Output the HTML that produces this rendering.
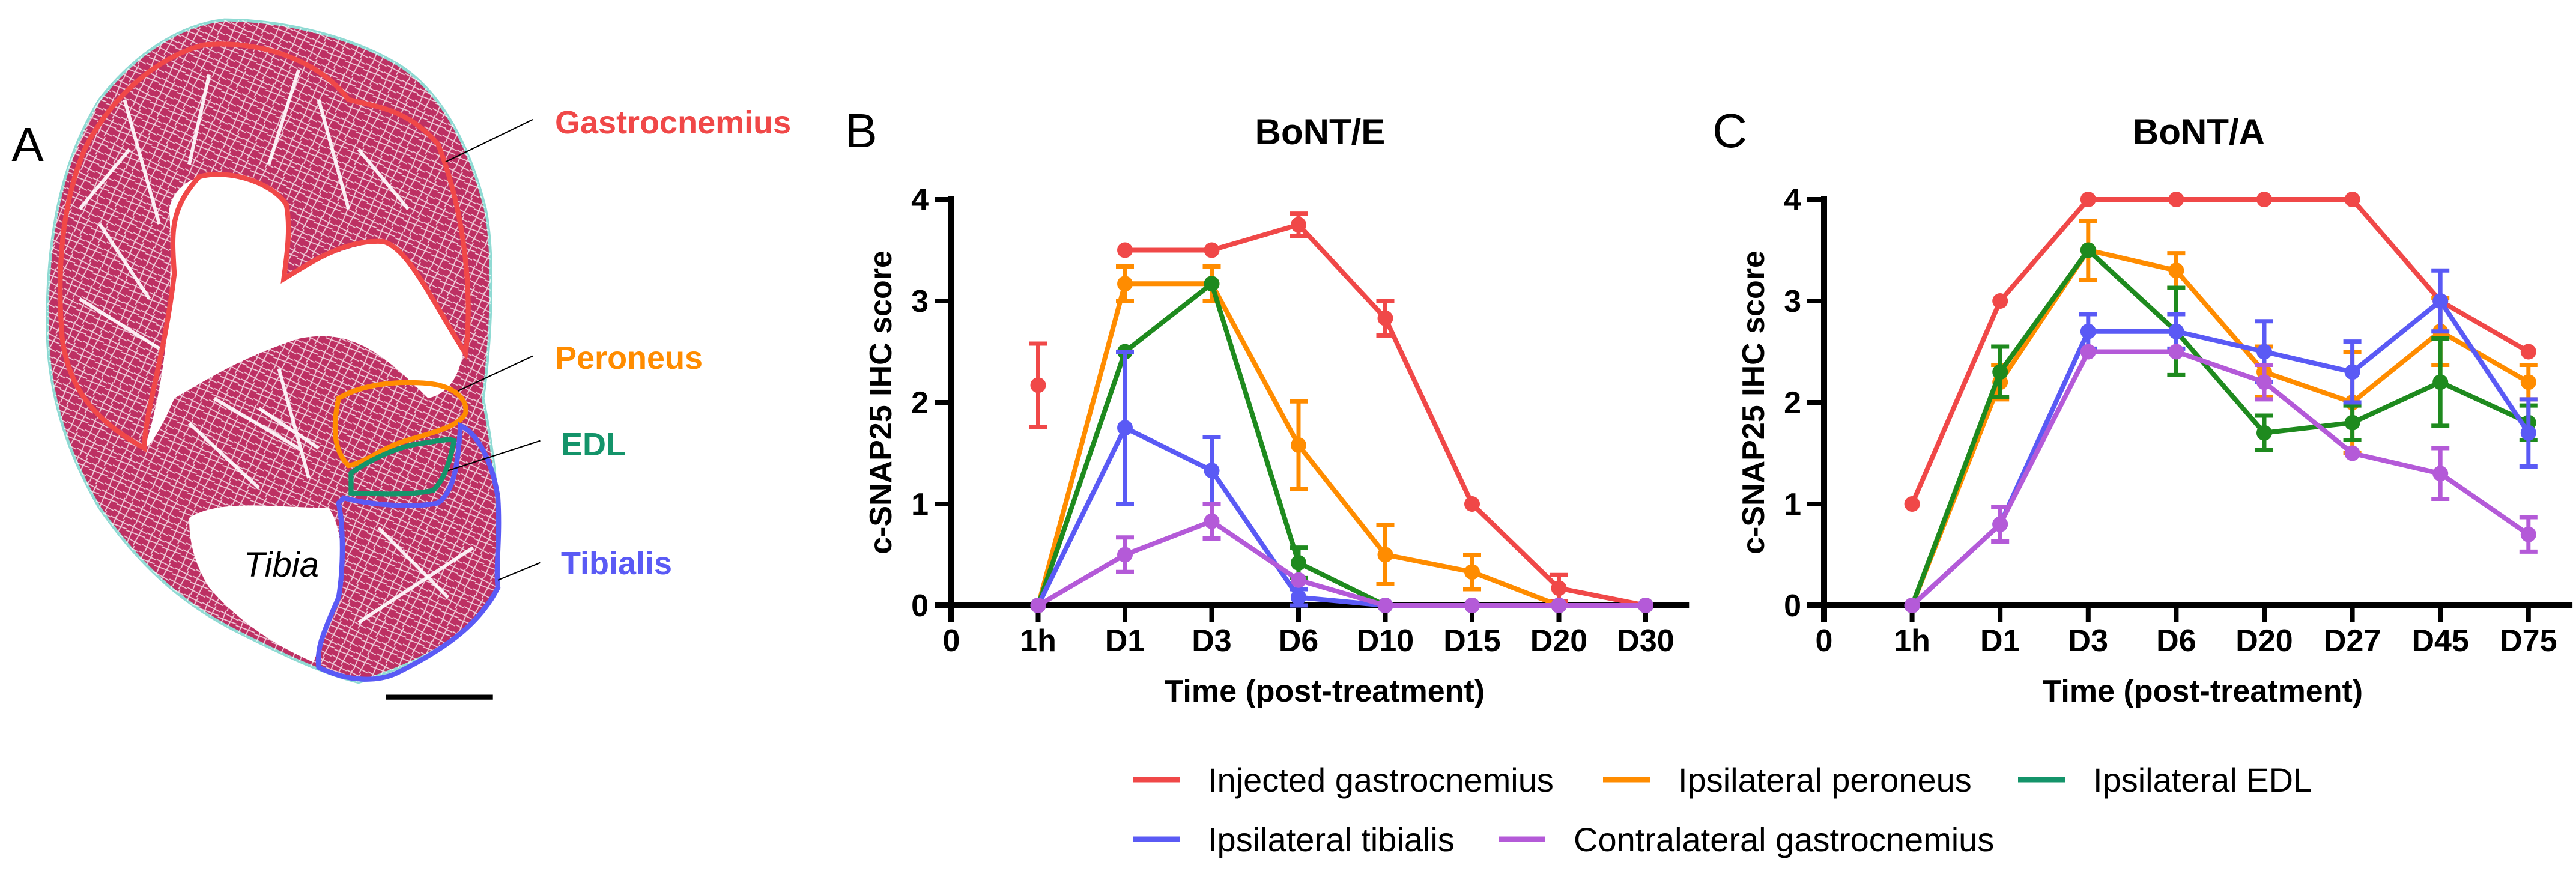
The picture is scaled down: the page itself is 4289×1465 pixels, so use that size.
<!DOCTYPE html>
<html><head><meta charset="utf-8"><style>
html,body{margin:0;padding:0;background:#fff;}
svg{display:block;font-family:"Liberation Sans",sans-serif;}
</style></head><body>
<svg id="fig" width="4289" height="1465" viewBox="0 0 4289 1465" xmlns="http://www.w3.org/2000/svg">
<defs>
 <pattern id="fibers" width="40" height="40" patternUnits="userSpaceOnUse" patternTransform="rotate(25)">
  <path d="M0,5 L40,7 M0,18 L40,15 M0,30 L40,33 M10,0 L12,40 M28,0 L25,40" stroke="#fff" stroke-width="2.2" opacity="0.75"/>
 </pattern>
</defs>
<g id="panelA">
 <text x="46" y="268" font-size="80" text-anchor="middle">A</text>
 <g transform="scale(0.829)">
  <path d="M450,40 C560,40 700,70 800,130 C880,180 940,280 975,420 C995,520 985,700 970,800 C990,900 1005,1000 1000,1180 C960,1260 880,1320 720,1370 C640,1350 560,1310 480,1270 C380,1220 290,1150 200,1020 C130,900 95,780 95,650 C95,480 120,330 200,200 C270,110 360,50 450,40 Z" fill="#bd3063" stroke="#8fdad3" stroke-width="6"/>
  <path d="M450,40 C560,40 700,70 800,130 C880,180 940,280 975,420 C995,520 985,700 970,800 C990,900 1005,1000 1000,1180 C960,1260 880,1320 720,1370 C640,1350 560,1310 480,1270 C380,1220 290,1150 200,1020 C130,900 95,780 95,650 C95,480 120,330 200,200 C270,110 360,50 450,40 Z" fill="url(#fibers)"/>
  <path d="M340,420 C350,360 420,340 480,350 C540,360 575,400 580,450 C578,500 570,540 570,560 C640,520 720,480 790,490 C840,540 880,620 930,710 C920,760 900,790 860,800 C760,700 700,660 600,680 C480,720 420,760 350,800 C330,850 300,900 290,900 C330,780 350,600 340,420 Z" fill="#fff"/>
  <path d="M380,1040 C440,1000 560,1020 660,1020 C690,1060 690,1150 680,1200 C650,1260 640,1300 630,1330 C560,1300 480,1250 420,1180 C390,1130 380,1090 380,1040 Z" fill="#fff"/>
  <path d="M250,200 L320,450 M420,150 L380,330 M600,140 L540,330 M640,200 L700,420 M200,450 L300,600 M160,600 L320,700 M720,300 L820,420 M400,450 L520,520 M480,620 L800,620 M380,850 L520,980 M760,1060 L900,1200 M720,1250 L950,1100 M430,800 L600,900 M260,300 L160,420 M520,820 L640,900 M560,740 L620,960" stroke="#fff" stroke-width="7" fill="none" opacity="0.9"/>
  <path d="M410,90 C330,110 230,180 170,300 C120,420 115,560 125,680 C140,790 200,850 290,900 C290,830 330,720 350,550 C345,470 340,420 400,355 C450,340 540,360 575,410 C585,460 575,520 570,560 C620,530 690,480 770,485 C820,500 860,590 935,710 C950,600 935,430 880,290 C820,220 760,215 700,200 C640,120 520,80 410,90 Z" fill="none" stroke="#f04848" stroke-width="10"/>
  <path d="M680,800 C730,770 800,765 860,770 C910,775 940,800 935,830 C920,860 860,870 800,890 C760,905 730,930 700,935 C675,910 665,870 680,800 Z" fill="none" stroke="#ff8c00" stroke-width="10"/>
  <path d="M705,950 C740,925 800,895 850,890 C880,885 905,880 912,885 C905,920 895,960 870,985 C820,995 760,992 705,990 Z" fill="none" stroke="#14946a" stroke-width="10"/>
  <path d="M690,1000 C750,1015 830,1020 880,1010 C915,985 920,920 925,855 C960,870 990,930 1000,1000 C1005,1080 995,1140 1000,1180 C960,1260 880,1310 800,1350 C760,1370 700,1370 640,1340 C635,1300 650,1270 680,1200 C690,1140 690,1060 680,1010 Z" fill="none" stroke="#5a5af5" stroke-width="10"/>
  <g stroke="#000" stroke-width="2.5">
   <line x1="1070" y1="240" x2="895" y2="325"/>
   <line x1="1070" y1="715" x2="920" y2="785"/>
   <line x1="1085" y1="885" x2="900" y2="945"/>
   <line x1="1085" y1="1130" x2="1000" y2="1165"/>
  </g>
  <text x="565" y="1158" font-size="70" font-style="italic" text-anchor="middle">Tibia</text>
  <line x1="775" y1="1400" x2="990" y2="1400" stroke="#000" stroke-width="10"/>
 </g>
 <g font-weight="bold" font-size="54">
  <text x="924" y="222" fill="#f04848">Gastrocnemius</text>
  <text x="924" y="614" fill="#ff8c00">Peroneus</text>
  <text x="934" y="758" fill="#14946a">EDL</text>
  <text x="934" y="956" fill="#5a5af5">Tibialis</text>
 </g>
</g>
<g id="chartB"></g>
<g id="chartC"></g>
<g id="legend"></g>
</svg>
<script>
const seriesNames = ["Injected gastrocnemius","Ipsilateral peroneus","Ipsilateral EDL","Ipsilateral tibialis","Contralateral gastrocnemius"];
const lineColors = ["#f04848","#ff8c00","#1e8a1e","#5a5af5","#b45ad8"];
const legendColors = ["#f04848","#ff8c00","#14946a","#5a5af5","#b45ad8"];

const catsB = ["1h","D1","D3","D6","D10","D15","D20","D30"];
const redB = [2.17,3.5,3.5,3.75,2.83,1.0,0.17,0];
const redErrB = [0.41,0,0,0.11,0.17,0,0.13,0];
const orangeB = [0,3.17,3.17,1.58,0.5,0.33,0,0];
const orangeErrB = [0,0.17,0.17,0.43,0.29,0.17,0,0];
const greenB = [0,2.5,3.17,0.42,0,0,0,0];
const greenErrB = [0,0,0,0.15,0,0,0,0];
const blueB = [0,1.75,1.33,0.08,0,0,0,0];
const blueErrB = [0,0.75,0.33,0.08,0,0,0,0];
const purpleB = [0,0.5,0.83,0.25,0,0,0,0];
const purpleErrB = [0,0.17,0.17,0,0,0,0,0];

const catsC = ["1h","D1","D3","D6","D20","D27","D45","D75"];
const redC = [1,3,4,4,4,4,3,2.5];
const redErrC = [0,0,0,0,0,0,0,0];
const orangeC = [0,2.2,3.5,3.3,2.3,2.0,2.7,2.2];
const orangeErrC = [0,0.17,0.29,0.17,0.25,0.5,0.33,0.17];
const greenC = [0,2.3,3.5,2.7,1.7,1.8,2.2,1.8];
const greenErrC = [0,0.25,0,0.43,0.17,0.17,0.43,0.17];
const blueC = [0,0.8,2.7,2.7,2.5,2.3,3.0,1.7];
const blueErrC = [0,0,0.17,0.17,0.3,0.3,0.3,0.33];
const purpleC = [0,0.8,2.5,2.5,2.2,1.5,1.3,0.7];
const purpleErrC = [0,0.17,0,0,0.17,0,0.25,0.17];

const yTicks = [0,1,2,3,4];
const NS = "http://www.w3.org/2000/svg";
function mk(parent, tag, attrs, text){
  const e = document.createElementNS(NS, tag);
  for (const k in attrs) e.setAttribute(k, attrs[k]);
  if (text !== undefined) e.textContent = text;
  parent.appendChild(e); return e;
}

function drawChart(gid, cfg){
  const g = document.getElementById(gid);
  const x = i => cfg.x0 + cfg.step * (i + 1);
  const y = v => cfg.y0 - v * cfg.unit;
  let t;
  t = mk(g,"text",{x:cfg.letterX,y:245,"font-size":80,"text-anchor":"middle"},cfg.letter);
  
  
  t = mk(g,"text",{x:cfg.titleX,y:240,"font-size":60,"font-weight":"bold","text-anchor":"middle"},cfg.title);
  
  
  let a = mk(g,"line",{x1:cfg.x0,y1:y(4)-5,x2:cfg.x0,y2:cfg.y0+28,stroke:"#000","stroke-width":10});
  
  
  a = mk(g,"line",{x1:cfg.x0-28,y1:cfg.y0,x2:cfg.x0+cfg.step*8.5,y2:cfg.y0,stroke:"#000","stroke-width":10});
  
  
  yTicks.forEach(v=>{
    const tk = mk(g,"line",{x1:cfg.x0-28,y1:y(v),x2:cfg.x0,y2:y(v),stroke:"#000","stroke-width":8});
    
    
    const lb = mk(g,"text",{x:cfg.x0-38,y:y(v)+18,"font-size":52,"font-weight":"bold","text-anchor":"end"},String(v));
    
    
  });
  const xl = ["0"].concat(cfg.cats);
  xl.forEach((c,i)=>{
    const px = cfg.x0 + cfg.step*i;
    const tk = mk(g,"line",{x1:px,y1:cfg.y0,x2:px,y2:cfg.y0+28,stroke:"#000","stroke-width":8});
    
    
    const lb = mk(g,"text",{x:px,y:cfg.y0+76,"font-size":52,"font-weight":"bold","text-anchor":"middle"},c);
    
    
  });
  t = mk(g,"text",{x:cfg.x0+cfg.step*4.3,y:cfg.y0+160,"font-size":52,"font-weight":"bold","text-anchor":"middle"},"Time (post-treatment)");
  
  
  t = mk(g,"text",{x:0,y:0,"font-size":52,"font-weight":"bold","text-anchor":"middle",transform:`translate(${cfg.x0-100},${(y(4)+cfg.y0)/2}) rotate(-90)`},"c-SNAP25 IHC score");
  
  
  cfg.series.forEach((s,si)=>{
    const sg = mk(g,"g",{});
    
    
    const col = lineColors[si];
    const start = s.skipLineFrom0 ? 1 : 0;
    let d = "";
    s.vals.forEach((v,i)=>{ if(i>=start) d += (d?"L":"M") + x(i) + "," + y(v); });
    const ln = mk(sg,"path",{d:d,fill:"none",stroke:col,"stroke-width":8,"stroke-linejoin":"round"});
    
    
    s.vals.forEach((v,i)=>{
      const e = s.err[i];
      if (e > 0){
        const eb = mk(sg,"path",{d:`M${x(i)},${y(v-e)}L${x(i)},${y(v+e)}M${x(i)-15},${y(v-e)}L${x(i)+15},${y(v-e)}M${x(i)-15},${y(v+e)}L${x(i)+15},${y(v+e)}`,stroke:col,"stroke-width":7,fill:"none"});
        
        
      }
      const p = mk(sg,"circle",{cx:x(i),cy:y(v),r:13,fill:col});
      
      
    });
  });
}

drawChart("chartB",{x0:1584,y0:1008,unit:169,step:144.5,letter:"B",letterX:1434,title:"BoNT/E",titleX:2198,cats:catsB,
  series:[{vals:redB,err:redErrB,skipLineFrom0:true},{vals:orangeB,err:orangeErrB},{vals:greenB,err:greenErrB},{vals:blueB,err:blueErrB},{vals:purpleB,err:purpleErrB}]});
drawChart("chartC",{x0:3037,y0:1008,unit:169,step:146.6,letter:"C",letterX:2880,title:"BoNT/A",titleX:3661,cats:catsC,
  series:[{vals:redC,err:redErrC},{vals:orangeC,err:orangeErrC},{vals:greenC,err:greenErrC},{vals:blueC,err:blueErrC},{vals:purpleC,err:purpleErrC}]});

const lg = document.getElementById("legend");
const legendPos = [[1886,1298],[2669,1298],[3360,1298],[1886,1397],[2495,1397]];
seriesNames.forEach((n,i)=>{
  const [lx,ly] = legendPos[i];
  const item = mk(lg,"g",{});
  
  
  const sw = mk(item,"line",{x1:lx,y1:ly,x2:lx+78,y2:ly,stroke:legendColors[i],"stroke-width":9});
  
  
  const tx = mk(item,"text",{x:lx+125,y:ly+20,"font-size":56},n);
  
  
});
</script>
</body></html>
